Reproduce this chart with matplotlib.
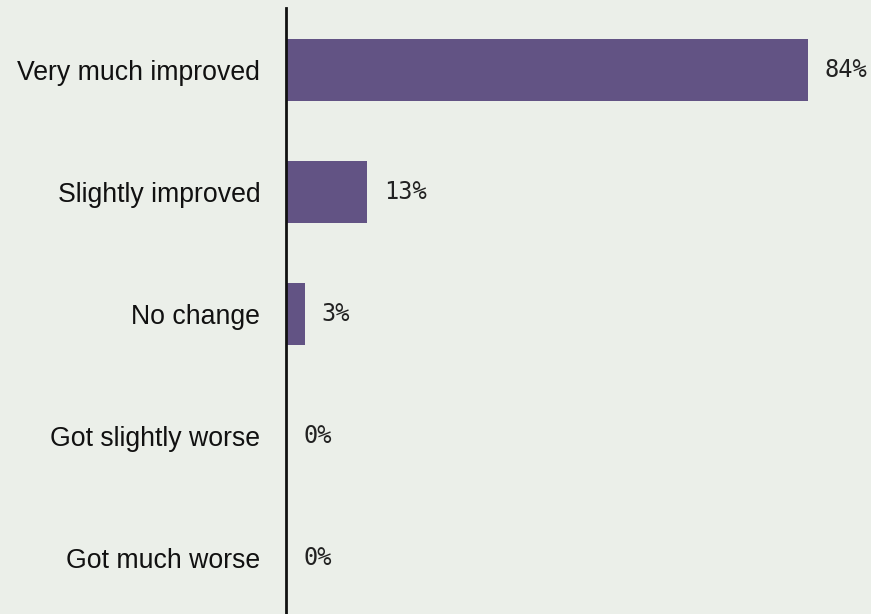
import matplotlib
matplotlib.use("Agg")
import matplotlib.pyplot as plt
from matplotlib.transforms import offset_copy

categories = ["Very much improved", "Slightly improved", "No change",
              "Got slightly worse", "Got much worse"]
values = [84, 13, 3, 0, 0]

BG = "#ebefe9"
BAR = "#625384"

fig = plt.figure(figsize=(8.71, 6.14), dpi=100, facecolor=BG)
W, H = 871, 614
ax = fig.add_axes([286 / W, 0, (W - 286) / W, (614 - 8) / H])
ax.set_facecolor(BG)

ypos = list(range(len(categories)))
ax.barh(ypos, values, height=0.508, color=BAR)
ax.set_xlim(0, (W - 286) / 6.214)
ax.set_ylim(4.459, -0.508)

ax.set_yticks(ypos)
ax.set_yticklabels(categories, fontsize=19.2, family=["Liberation Sans", "DejaVu Sans"],
                   color="#111111")
ax.tick_params(axis="y", length=0, pad=18.5)
ax.set_xticks([])
for s in ["top", "right", "bottom"]:
    ax.spines[s].set_visible(False)
ax.spines["left"].set_linewidth(2.0)
ax.spines["left"].set_color("#111111")

trans = offset_copy(ax.transData, fig=fig, x=17, y=0, units="dots")
for y, v in zip(ypos, values):
    ax.text(v, y, f"{v}%", transform=trans, va="center", ha="left",
            fontsize=17, family="DejaVu Sans Mono", color="#222222")

fig.savefig("out.png", dpi=100, facecolor=BG)
